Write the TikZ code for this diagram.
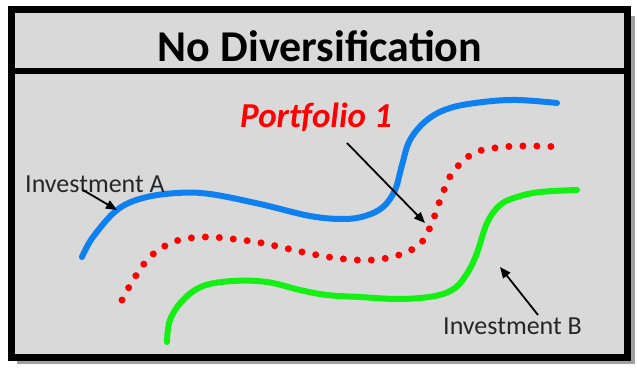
\documentclass[tikz,border=0pt]{standalone}
\usepackage{fontspec}
\setmainfont{Carlito}
\usetikzlibrary{arrows.meta}

\definecolor{panelgray}{RGB}{217,217,217}
\definecolor{shadowgray}{RGB}{160,160,160}
\definecolor{invblue}{RGB}{15,128,240}
\definecolor{invgreen}{RGB}{20,240,20}
\definecolor{portred}{RGB}{255,0,0}

\begin{document}
\begin{tikzpicture}[x=1pt,y=-1pt,
	invtext/.style={font=\fontsize{26}{26}\selectfont, text=black!85, inner sep=0pt, anchor=base west},
	invcurve/.style={line width=6pt, line cap=round},
	pointer/.style={line width=1.8pt, -{Triangle[length=11pt,width=9pt]}}]

		\useasboundingbox (0,0) rectangle (637,369);

		% frame with shadow
		\fill[shadowgray] (17,16) rectangle (635,364);
		\filldraw[fill=panelgray, draw=black, line width=7pt] (11,10) rectangle (627,357);
		\draw[line width=6pt] (11,71) -- (627,71);

		\node[font=\bfseries\fontsize{44}{44}\selectfont, inner sep=0pt, anchor=base] (title) at (320,62) {No Diversification};

		% curves
		\draw[invcurve, invblue] plot[smooth, tension=0.6] coordinates {(82,257) (93,237) (117,210) (143,198) (177,193) (210,194) (260,204) (310,216) (343,219) (365,216) (383,207) (395,190) (402,165) (410,140) (427,120) (450,108) (483,102) (517,100) (557,103)};
		\draw[portred, line width=7pt, line cap=round, dash pattern=on 0pt off 14pt] plot[smooth, tension=0.6] coordinates {(122,300) (135,277) (152,255) (176,241) (205,237) (233,239) (262,243) (289,249) (317,255) (344,259) (372,260) (399,255) (421,243) (433,220) (442,195) (453,172) (474,153) (503,147) (532,146) (562,147)};
		\draw[invcurve, invgreen] plot[smooth, tension=0.6] coordinates {(167,342) (170,320) (183,300) (203,286) (233,281) (267,282) (300,290) (327,295) (360,297) (400,299) (435,296) (455,288) (468,272) (477,253) (487,223) (500,205) (517,197) (540,192) (577,190)};

		% labels
		\node[invtext] (invA) at (25,192) {Investment A};
		\node[invtext] (invB) at (443,334) {Investment B};
		\node[font=\bfseries\itshape\fontsize{35}{35}\selectfont, text=portred, inner sep=0pt, anchor=base west] (port) at (240,127) {Port\kern0pt{}folio 1};

		\coordinate (startA) at (83,190);
		\coordinate (tipA) at (117,210);
		\coordinate (startP) at (347,143);
		\coordinate (tipP) at (425,223);
		\coordinate (startB) at (538,315);
		\coordinate (tipB) at (500,267);

		\draw[pointer] (startA) -- (tipA);
		\draw[pointer] (startP) -- (tipP);
		\draw[pointer] (startB) -- (tipB);

\end{tikzpicture}
\end{document}
